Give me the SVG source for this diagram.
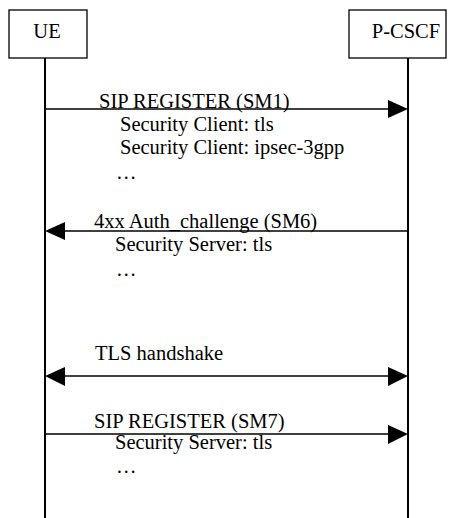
<svg xmlns="http://www.w3.org/2000/svg" width="456" height="518" viewBox="0 0 456 518">
<style>
  text { font-family: "Liberation Serif", "Times New Roman", serif; font-size: 20.5px; fill: #000; }
  .box { fill: #fff; stroke: #000; stroke-width: 1.3; }
  .life { stroke: #000; stroke-width: 2; }
  .msg { stroke: #000; stroke-width: 1.5; fill: none; }
  .head { fill: #000; stroke: none; }
</style>
<rect width="456" height="518" fill="#fff"/>
<g id="UE">
  <rect class="box" x="9" y="10" width="78" height="48"/>
  <text x="47" y="38" text-anchor="middle">UE</text>
  <line class="life" x1="45" y1="58" x2="45" y2="518"/>
</g>
<g id="P-CSCF">
  <rect class="box" x="349" y="10" width="97" height="48"/>
  <text x="406" y="38" text-anchor="middle">P-CSCF</text>
  <line class="life" x1="408" y1="58" x2="408" y2="518"/>
</g>
<g id="connectors">
  <line class="msg" x1="45" y1="109" x2="390" y2="109"/>
  <polygon class="head" points="408,109 388,100 388,118"/>
  <line class="msg" x1="63" y1="231" x2="408" y2="231"/>
  <polygon class="head" points="45,231 65,222 65,240"/>
  <line class="msg" x1="63" y1="376" x2="390" y2="376"/>
  <polygon class="head" points="45,376 65,367 65,386"/>
  <polygon class="head" points="408,376 388,367 388,386"/>
  <line class="msg" x1="45" y1="434" x2="390" y2="434"/>
  <polygon class="head" points="408,434 388,425 388,444"/>
</g>
<g id="labels">
  <text x="99" y="108">SIP REGISTER (SM1)</text>
  <text x="120" y="131">Security Client: tls</text>
  <text x="120" y="154">Security Client: ipsec-3gpp</text>
  <text x="116" y="179">…</text>
  <text x="94" y="228">4xx Auth_challenge (SM6)</text>
  <text x="115" y="251">Security Server: tls</text>
  <text x="116" y="276">…</text>
  <text x="95" y="360">TLS handshake</text>
  <text x="94" y="428">SIP REGISTER (SM7)</text>
  <text x="115" y="449">Security Server: tls</text>
  <text x="116" y="473">…</text>
</g>
</svg>
